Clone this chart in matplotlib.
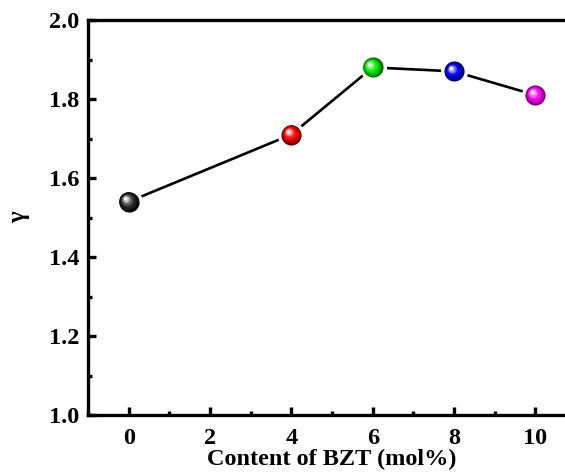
import numpy as np
import matplotlib
matplotlib.use('Agg')
import matplotlib.pyplot as plt
import matplotlib.colors as mcolors
from matplotlib.transforms import offset_copy
from matplotlib.ticker import MultipleLocator, FormatStrFormatter

# data
bzt_content = [0, 4, 6, 8, 10]
gamma = [1.54, 1.71, 1.88, 1.87, 1.81]
point_colors = ['black', 'red', '#00ee00', '#0000ee', '#ff00ff']

plt.rcParams['font.family'] = ['Liberation Serif', 'DejaVu Serif']
plt.rcParams['font.weight'] = 'bold'

fig = plt.figure(figsize=(5.65, 4.73), dpi=100)
ax = fig.add_axes([0.1558, 0.1226, 0.8637, 0.8351])

# connecting line, markers with white halo leave a gap
ax.plot(bzt_content, gamma, color='black', lw=1.9, zorder=1)


def sphere(ax, x, y, color, size=14.5):
    base = np.array(mcolors.to_rgb(color))
    dark = base * 0.45
    ax.plot([x], [y], 'o', ms=size + 5, color='white', mec='none', zorder=2)
    ax.plot([x], [y], 'o', ms=size, color=dark, mec='none', zorder=3)
    steps = 12
    for k in range(1, steps + 1):
        f = k / steps
        s = size * (1 - 0.85 * f)
        if color == 'black':
            c = np.ones(3) * min(1.0, 0.05 + 0.95 * f ** 2.2)
        elif f < 0.45:
            c = dark + (base - dark) * (f / 0.45)
        else:
            c = base + (np.ones(3) - base) * ((f - 0.45) / 0.55) ** 1.4
        tr = offset_copy(ax.transData, fig=ax.figure, x=-2.4 * f, y=2.4 * f, units='points')
        ax.plot([x], [y], 'o', ms=s, color=c, mec='none', zorder=3 + k, transform=tr)


for xv, yv, c in zip(bzt_content, gamma, point_colors):
    sphere(ax, xv, yv, c)

ax.set_xlim(-1, 11)
ax.set_ylim(1.0, 2.0)
ax.xaxis.set_major_locator(MultipleLocator(2))
ax.xaxis.set_minor_locator(MultipleLocator(1))
ax.yaxis.set_major_locator(MultipleLocator(0.2))
ax.yaxis.set_minor_locator(MultipleLocator(0.1))
ax.yaxis.set_major_formatter(FormatStrFormatter('%.1f'))

for sp in ax.spines.values():
    sp.set_linewidth(2.4)
ax.tick_params(which='major', direction='in', length=5.5, width=2.4, labelsize=17.5)
ax.tick_params(axis='x', which='major', pad=9)
ax.tick_params(axis='y', which='major', pad=6)
ax.tick_params(which='minor', direction='in', length=3, width=2.4)
ax.tick_params(axis='both', which='both', top=False, right=False)

for lab in ax.get_xticklabels() + ax.get_yticklabels():
    lab.set_fontweight('bold')

ax.set_xlabel('Content of BZT (mol%)', fontsize=17.5, fontweight='bold', labelpad=0)
ax.set_ylabel('γ', fontsize=18, fontweight='bold', labelpad=14)

fig.savefig('out.png', dpi=100)
